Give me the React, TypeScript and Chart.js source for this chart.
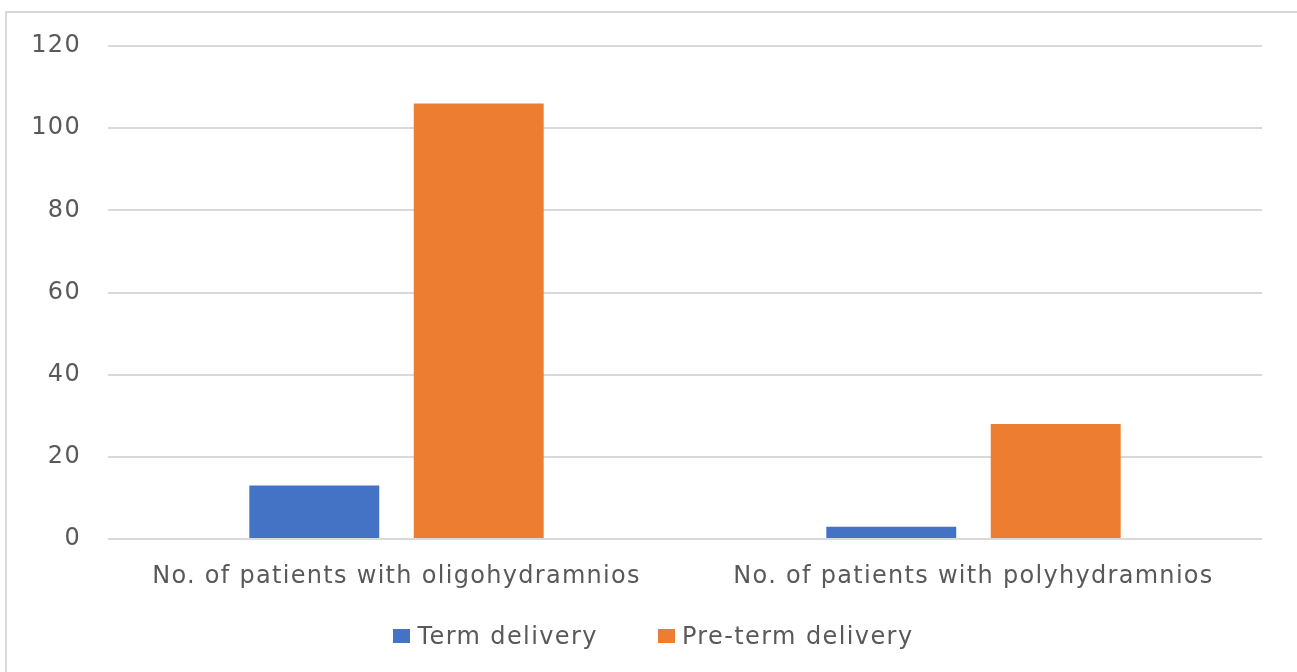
import React, { useEffect, useRef } from "react";
import { Chart, registerables } from "chart.js";

Chart.register(...registerables);

const categories = ["No. of patients with oligohydramnios", "No. of patients with polyhydramnios"];
const termDelivery = [13, 3];
const pretermDelivery = [106, 28];
const seriesNames = ["Term delivery", "Pre-term delivery"];
const seriesColors = ["#4472C4", "#ED7D31"];
const yTicks = [0, 20, 40, 60, 80, 100, 120];

const FONT = "'DejaVu Sans', 'Open Sans', sans-serif";
const TEXT = "#595959";

const spacingPlugin = {
  id: "letterSpacing",
  beforeDraw(chart: any) {
    try {
      chart.ctx.letterSpacing = "1.3px";
    } catch (e) {}
  },
};

export default function App() {
  const ref = useRef<HTMLCanvasElement | null>(null);
  useEffect(() => {
    if (!ref.current) return;
    const chart = new Chart(ref.current, {
      type: "bar",
      data: {
        labels: categories,
        datasets: [
          { label: seriesNames[0], data: termDelivery, backgroundColor: seriesColors[0], categoryPercentage: 0.57, barPercentage: 0.79 },
          { label: seriesNames[1], data: pretermDelivery, backgroundColor: seriesColors[1], categoryPercentage: 0.57, barPercentage: 0.79 },
        ],
      },
      options: {
        animation: false,
        responsive: false,
        layout: { padding: { top: 46, right: 35, left: 0, bottom: 0 } },
        plugins: {
          tooltip: { enabled: false },
          legend: { display: false },
        },
        scales: {
          x: {
            grid: { display: false, drawTicks: false },
            border: { display: false },
            ticks: { font: { family: FONT, size: 24 }, color: TEXT, padding: 23 },
            afterFit: (s: any) => { s.height = 133; },
          },
          y: {
            min: 0,
            max: 120,
            afterBuildTicks: (s: any) => { s.ticks = yTicks.map((v) => ({ value: v })); },
            grid: { color: "#d9d9d9", lineWidth: 2, drawTicks: false },
            border: { display: false },
            ticks: { font: { family: FONT, size: 24 }, color: TEXT, padding: 27 },
            afterFit: (s: any) => { s.width = 108; },
          },
        },
      },
      plugins: [spacingPlugin],
    });
    return () => chart.destroy();
  }, []);
  return (
    <div style={{ position: "absolute", left: 0, top: 0, width: 1297, height: 672, overflow: "hidden", background: "#fff" }}>
      <div style={{ position: "absolute", left: 5, top: 11, width: 1400, height: 800, border: "2px solid #d9d9d9" }} />
      <canvas ref={ref} width={1297} height={672} style={{ position: "absolute", left: 0, top: 0, width: 1297, height: 672 }} />
      <div
        style={{
          position: "absolute",
          left: 5,
          top: 620,
          width: 1297,
          height: 32,
          display: "flex",
          justifyContent: "center",
          alignItems: "center",
          fontFamily: FONT,
          fontSize: 24,
          letterSpacing: "1.4px",
          color: TEXT,
          whiteSpace: "nowrap",
        }}
      >
        {seriesNames.map((name, i) => (
          <div key={name} style={{ display: "flex", alignItems: "center", marginLeft: i === 0 ? 0 : 60 }}>
            <span style={{ display: "inline-block", width: 17, height: 14, background: seriesColors[i], marginRight: 7 }} />
            <span>{name}</span>
          </div>
        ))}
      </div>
    </div>
  );
}
